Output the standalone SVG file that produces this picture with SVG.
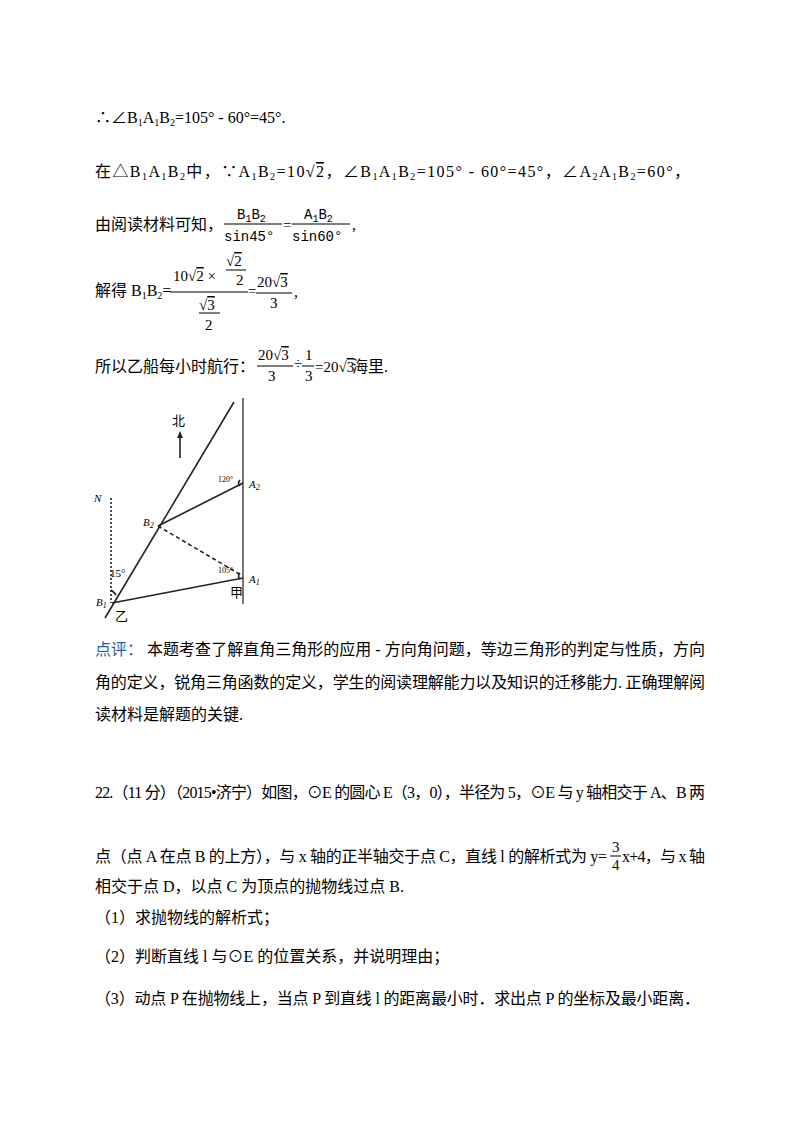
<svg xmlns="http://www.w3.org/2000/svg" width="800" height="1132" viewBox="0 0 800 1132">
<style>
text{font-family:"Liberation Serif","Noto Sans CJK SC",serif;font-size:16px;fill:#000}
.s{font-size:10px}
.sm{font-size:15px}
.lab{font-size:11px;font-style:italic}
.blue{fill:#1a5fa8}
.ol{text-decoration:overline}
.ln{stroke:#000;stroke-width:1;fill:none}
.fig{stroke:#222;stroke-width:1.6;fill:none}
</style>
<rect width="800" height="1132" fill="#fff"/>
<text x="95" y="123">∴∠B<tspan class="s" dy="3">1</tspan><tspan dy="-3">A</tspan><tspan class="s" dy="3">1</tspan><tspan dy="-3">B</tspan><tspan class="s" dy="3">2</tspan><tspan dy="-3">=105° - 60°=45°.</tspan></text>
<text x="95" y="177" textLength="595" lengthAdjust="spacing">在△B<tspan class="s" dy="3">1</tspan><tspan dy="-3">A</tspan><tspan class="s" dy="3">1</tspan><tspan dy="-3">B</tspan><tspan class="s" dy="3">2</tspan><tspan dy="-3">中，∵A</tspan><tspan class="s" dy="3">1</tspan><tspan dy="-3">B</tspan><tspan class="s" dy="3">2</tspan><tspan dy="-3">=10√</tspan><tspan class="ol">2</tspan><tspan>，∠B</tspan><tspan class="s" dy="3">1</tspan><tspan dy="-3">A</tspan><tspan class="s" dy="3">1</tspan><tspan dy="-3">B</tspan><tspan class="s" dy="3">2</tspan><tspan dy="-3">=105° - 60°=45°，∠A</tspan><tspan class="s" dy="3">2</tspan><tspan dy="-3">A</tspan><tspan class="s" dy="3">1</tspan><tspan dy="-3">B</tspan><tspan class="s" dy="3">2</tspan><tspan dy="-3">=60°，</tspan></text>
<!-- line 3 -->
<text x="95" y="230">由阅读材料可知，</text>
<text x="237" y="219" style="font-family:'Liberation Mono',monospace;font-size:14px">B<tspan class="s" dy="3">1</tspan><tspan dy="-3">B</tspan><tspan class="s" dy="3">2</tspan></text>
<text x="224" y="241" style="font-family:'Liberation Mono',monospace;font-size:14px">sin45°</text>
<text x="304" y="219" style="font-family:'Liberation Mono',monospace;font-size:14px">A<tspan class="s" dy="3">1</tspan><tspan dy="-3">B</tspan><tspan class="s" dy="3">2</tspan></text>
<text x="292" y="241" style="font-family:'Liberation Mono',monospace;font-size:14px">sin60°</text>
<text x="283" y="230" class="sm">=</text>
<text x="352" y="230">,</text>
<line class="ln" x1="224" y1="224" x2="282" y2="224"/>
<line class="ln" x1="292" y1="224" x2="350" y2="224"/>
<!-- line 4 -->
<text x="95" y="296">解得 B<tspan class="s" dy="3">1</tspan><tspan dy="-3">B</tspan><tspan class="s" dy="3">2</tspan><tspan dy="-3">=</tspan></text>
<text x="173" y="281" class="sm">10√<tspan class="ol">2</tspan> ×</text>
<text x="226" y="266" class="sm">√<tspan class="ol">2</tspan></text>
<line class="ln" x1="226" y1="270" x2="246" y2="270"/>
<text x="236" y="285" class="sm">2</text>
<line class="ln" x1="170" y1="292" x2="248" y2="292"/>
<text x="199" y="310" class="sm">√<tspan class="ol">3</tspan></text>
<line class="ln" x1="199" y1="313" x2="220" y2="313"/>
<text x="205" y="330" class="sm">2</text>
<text x="248" y="296" class="sm">=</text>
<text x="257" y="287" class="sm">20√<tspan class="ol">3</tspan></text>
<line class="ln" x1="256" y1="293" x2="292" y2="293"/>
<text x="270" y="308" class="sm">3</text>
<text x="294" y="297">,</text>
<!-- line 5 -->
<text x="95" y="372">所以乙船每小时航行：</text>
<text x="258" y="360" class="sm">20√<tspan class="ol">3</tspan></text>
<line class="ln" x1="257" y1="366" x2="293" y2="366"/>
<text x="268" y="381" class="sm">3</text>
<text x="294" y="369" class="sm">÷</text>
<text x="305" y="360" class="sm">1</text>
<line class="ln" x1="302" y1="366" x2="314" y2="366"/>
<text x="305" y="381" class="sm">3</text>
<text x="315" y="372" class="sm">=20√<tspan class="ol">3</tspan></text>
<text x="352" y="372">海里.</text>
<!-- figure -->
<g id="figure">
<line class="fig" x1="105" y1="618" x2="234" y2="402"/>
<line x1="243" y1="398" x2="243" y2="604" stroke="#777" stroke-width="2"/>
<line class="fig" x1="112" y1="603" x2="243" y2="578"/>
<line class="fig" x1="158" y1="526" x2="243" y2="483"/>
<line class="fig" x1="158" y1="526" x2="241" y2="575" stroke-dasharray="4,3" stroke-width="1"/>
<line class="fig" x1="111" y1="498" x2="111" y2="603" stroke-dasharray="2,2" stroke-width="1"/>
<line class="fig" x1="180" y1="458" x2="180" y2="434" stroke-width="1.2"/>
<path d="M177,438 L180,431 L183,438 Z" fill="#222"/>
<path d="M111,590 Q114,592 116,595" class="fig" stroke-width="1"/>
<path d="M240,480 Q237,483 240,486" class="fig" stroke-width="1"/>
<path d="M240,573 Q237,576 240,579" class="fig" stroke-width="1"/>
<text x="172" y="425" style="font-size:13px">北</text>
<text x="94" y="502" class="lab">N</text>
<text x="143" y="526" class="lab">B<tspan style="font-size:8px" dy="2">2</tspan></text>
<text x="218" y="482" style="font-size:8px">120°</text>
<text x="249" y="488" class="lab">A<tspan style="font-size:8px" dy="2">2</tspan></text>
<text x="218" y="573" style="font-size:8px">105°</text>
<text x="249" y="583" class="lab">A<tspan style="font-size:8px" dy="2">1</tspan></text>
<text x="110" y="577" style="font-size:11px">15°</text>
<text x="96" y="606" class="lab">B<tspan style="font-size:8px" dy="2">1</tspan></text>
<text x="115" y="621" style="font-size:13px">乙</text>
<text x="230" y="597" style="font-size:13px">甲</text>
</g>
<text x="95" y="655" textLength="610" lengthAdjust="spacing"><tspan class="blue">点评：</tspan> 本题考查了解直角三角形的应用 - 方向角问题，等边三角形的判定与性质，方向</text>
<text x="95" y="688" textLength="610" lengthAdjust="spacing">角的定义，锐角三角函数的定义，学生的阅读理解能力以及知识的迁移能力. 正确理解阅</text>
<text x="95" y="720">读材料是解题的关键.</text>
<text x="95" y="798" textLength="610" lengthAdjust="spacing">22.（11 分）（2015•济宁）如图，⊙E 的圆心 E（3，0），半径为 5，⊙E 与 y 轴相交于 A、B 两</text>
<text x="95" y="862" textLength="512" lengthAdjust="spacing">点（点 A 在点 B 的上方），与 x 轴的正半轴交于点 C，直线 l 的解析式为 y=</text>
<text x="612" y="852" class="sm">3</text>
<line class="ln" x1="610" y1="856" x2="621" y2="856"/>
<text x="612" y="870" class="sm">4</text>
<text x="622" y="862" textLength="83" lengthAdjust="spacing">x+4，与 x 轴</text>
<text x="95" y="892">相交于点 D，以点 C 为顶点的抛物线过点 B.</text>
<text x="95" y="923">（1）求抛物线的解析式；</text>
<text x="95" y="962">（2）判断直线 l 与⊙E 的位置关系，并说明理由；</text>
<text x="95" y="1004" textLength="605" lengthAdjust="spacing">（3）动点 P 在抛物线上，当点 P 到直线 l 的距离最小时．求出点 P 的坐标及最小距离．</text>
</svg>
